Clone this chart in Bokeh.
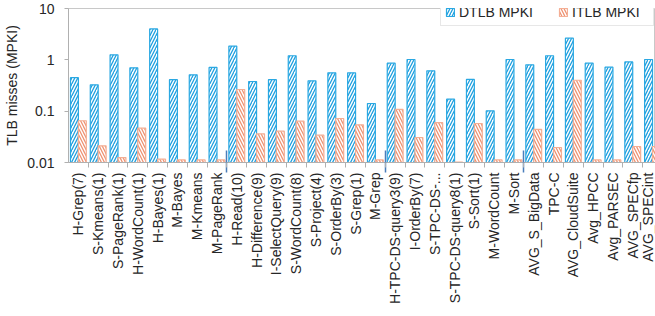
import math
import numpy as np
from bokeh.plotting import figure
from bokeh.models import (Range1d, LinearAxis, FixedTicker, CustomJSTickFormatter,
                          Legend, LegendItem, ColumnDataSource)
from bokeh.transform import dodge
from bokeh.embed import file_html
from bokeh.resources import INLINE

categories = ["H-Grep(7)", "S-Kmeans(1)", "S-PageRank(1)", "H-WordCount(1)", "H-Bayes(1)",
              "M-Bayes", "M-Kmeans", "M-PageRank", "H-Read(10)", "H-Difference(9)",
              "I-SelectQuery(9)", "S-WordCount(8)", "S-Project(4)", "S-OrderBy(3)", "S-Grep(1)",
              "M-Grep", "H-TPC-DS-query3(9)", "I-OrderBy(7)", "S-TPC-DS-...", "S-TPC-DS-query8(1)",
              "S-Sort(1)", "M-WordCount", "M-Sort", "AVG_S_BigData", "TPC-C",
              "AVG_CloudSuite", "Avg_HPCC", "Avg_PARSEC", "AVG_SPECfp", "AVG_SPECint"]
dtlb_mpki = [0.45, 0.326, 1.25, 0.70, 4.0, 0.41, 0.51, 0.71, 1.85, 0.378,
             0.41, 1.2, 0.39, 0.558, 0.558, 0.141, 0.86, 1.016, 0.61, 0.171,
             0.415, 0.1016, 1.016, 0.80, 1.2, 2.64, 0.86, 0.72, 0.91, 1.016]
itlb_mpki = [0.065, 0.0211, 0.0125, 0.0466, 0.0116, 0.0112, 0.0112, 0.0112, 0.264, 0.0362,
             0.0407, 0.0638, 0.034, 0.072, 0.0542, 0.0112, 0.108, 0.0307, 0.060, 0.0102,
             0.0575, 0.0112, 0.0112, 0.044, 0.0196, 0.40, 0.0112, 0.0112, 0.0205, 0.0205]
group_starts = [8, 16, 23]
y_ticks = [0.01, 0.1, 1, 10]
y_tick_labels = ["0.01", "0.1", "1", "10"]
series_names = ["DTLB MPKI", "ITLB MPKI"]

BLUE_LINE = "#2aa8e2"
BLUE_HATCH = "#1e9fdf"
ORANGE_LINE = "#f4ae94"
ORANGE_HATCH = "#ee9272"
GRAY = "#b0b0b0"
TEXT = "#262626"
FONT = "Liberation Sans"

xs = np.arange(len(categories))
src = ColumnDataSource(dict(x=xs, dtlb=dtlb_mpki, itlb=itlb_mpki))

p = figure(width=655, height=316, x_range=Range1d(-0.5, 29.15),
           y_range=Range1d(y_ticks[0], y_ticks[-1]), y_axis_type="log",
           x_axis_location=None, output_backend="svg", toolbar_location=None,
           min_border_left=68, min_border_right=0, min_border_top=8, min_border_bottom=154)
p.background_fill_color = "white"
p.border_fill_color = "white"
p.outline_line_color = "#c8c8c8"
p.xgrid.visible = False
p.ygrid.visible = False

r1 = p.vbar(x=dodge("x", -0.2), top="dtlb", bottom=y_ticks[0], width=0.4, source=src,
            fill_color="white", line_color=BLUE_LINE, line_width=1.2,
            hatch_pattern="/", hatch_color=BLUE_HATCH, hatch_scale=6, hatch_weight=1.3)
r2 = p.vbar(x=dodge("x", 0.2), top="itlb", bottom=y_ticks[0], width=0.4, source=src,
            fill_color="white", line_color=ORANGE_LINE, line_width=1.2,
            hatch_pattern="\\", hatch_color=ORANGE_HATCH, hatch_scale=6, hatch_weight=1.3)

# y axis
ya = p.yaxis[0]
ya.ticker = FixedTicker(ticks=y_ticks)
ya.major_label_overrides = dict(zip(y_ticks, y_tick_labels))
ya.axis_label = "TLB misses (MPKI)"
ya.axis_label_text_font = FONT
ya.axis_label_text_font_size = "14px"
ya.axis_label_text_font_style = "normal"
ya.axis_label_text_color = TEXT
ya.axis_label_standoff = 4
ya.major_label_text_font = FONT
ya.major_label_text_font_size = "14px"
ya.major_label_text_color = TEXT
ya.major_label_standoff = 10
ya.axis_line_color = GRAY
ya.major_tick_line_color = GRAY
ya.major_tick_in = 0
ya.major_tick_out = 4
ya.minor_tick_line_color = None

# separator / boundary tick axis (closest to the frame)
boundaries = [i - 0.5 for i in range(1, len(categories) + 1)]
seps = [g - 0.5 for g in group_starts]
sep_axis = LinearAxis(ticker=FixedTicker(ticks=seps, minor_ticks=boundaries),
                      formatter=CustomJSTickFormatter(code="return ''"),
                      major_label_orientation=math.pi / 2, major_label_standoff=0,
                      axis_line_color=GRAY,
                      major_tick_line_color="#4a7ebb", major_tick_line_width=1.5,
                      major_tick_in=12, major_tick_out=10,
                      minor_tick_line_color=GRAY, minor_tick_in=0, minor_tick_out=5)
p.add_layout(sep_axis, "below")

# category label axis
lab_axis = LinearAxis(ticker=FixedTicker(ticks=list(xs)),
                      major_label_overrides={int(i): c for i, c in zip(xs, categories)},
                      major_label_orientation=math.pi / 2, major_label_standoff=0,
                      major_label_text_font=FONT, major_label_text_font_size="14px",
                      major_label_text_color=TEXT,
                      axis_line_color=None, major_tick_line_color=None,
                      major_tick_in=0, major_tick_out=0,
                      minor_tick_line_color=None, minor_tick_in=0, minor_tick_out=0)
p.add_layout(lab_axis, "below")

legend = Legend(items=[LegendItem(label=series_names[0], renderers=[r1]),
                       LegendItem(label=series_names[1], renderers=[r2])],
                orientation="horizontal", location=(372, 136),
                padding=4, margin=0, spacing=22, label_standoff=4,
                glyph_width=10, glyph_height=10, label_height=18, label_width=77,
                label_text_font=FONT, label_text_font_size="14px", label_text_color=TEXT,
                border_line_color="#d0d0d0", border_line_width=1,
                background_fill_color="white", background_fill_alpha=1.0)
p.add_layout(legend)

open("out.html", "w").write(file_html(p, INLINE))
